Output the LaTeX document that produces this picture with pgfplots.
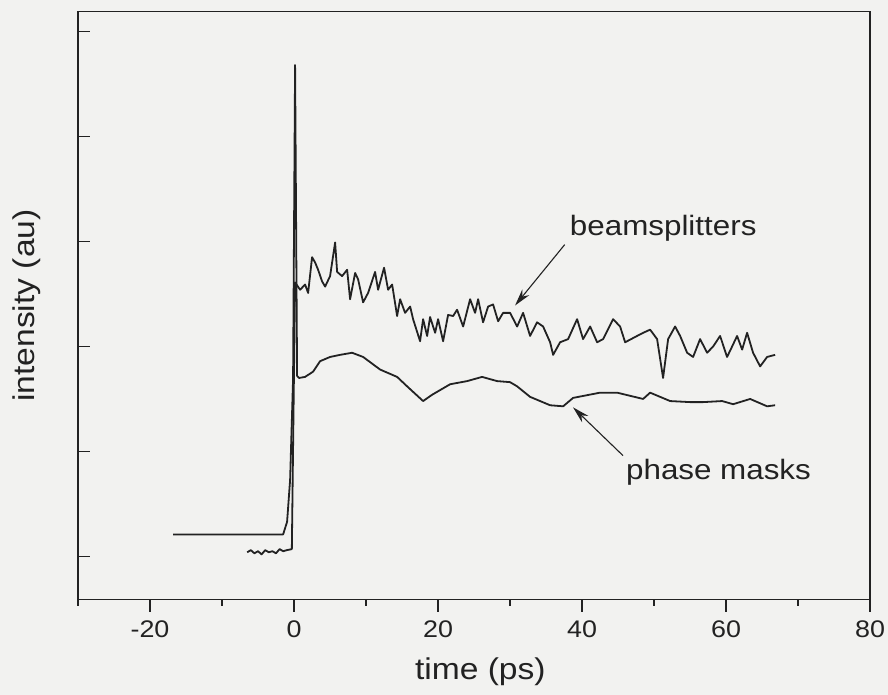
\documentclass[border=0pt]{standalone}
\usepackage{pgfplots}
\pgfplotsset{compat=1.18}
\usetikzlibrary{arrows.meta}
\usepackage{fontspec}
\setmainfont{Liberation Sans}[FakeStretch=1.12]
\definecolor{bg}{HTML}{F2F2F0}
\definecolor{ink}{HTML}{222222}

\begin{document}
\begin{tikzpicture}
\fill[bg] (0pt,0pt) rectangle (888pt,-695pt);
\begin{axis}[
  at={(78pt,-599.5pt)}, anchor=south west,
  scale only axis, width=792pt, height=588pt,
  xmin=-30, xmax=80, ymin=-0.41, ymax=5.19,
  xtick={-20,0,20,40,60,80},
  xticklabels={-20,0,20,40,60,80},
  minor xtick={-30,-10,10,30,50,70},
  ytick={0,1,2,3,4,5}, yticklabels={},
  xtick pos=bottom, ytick pos=left,
  xtick align=outside, ytick align=inside,
  major tick length=12pt, minor tick length=6pt,
  axis line style={draw=ink, line width=1.4pt},
  every tick/.style={draw=ink, line width=1.4pt},
  xticklabel style={font=\fontsize{24}{26}\selectfont, text=ink, yshift=-6pt},
  xlabel={time (ps)}, ylabel={intensity (au)},
  xlabel style={font=\fontsize{30}{34}\selectfont, text=ink, at={(axis description cs:0.508,0)}, anchor=center, yshift=-72.5pt},
  ylabel style={font=\fontsize{30}{34}\selectfont, text=ink, at={(axis description cs:-0.0644,0.5)}, anchor=center},
  clip=false,
]
% phase masks
\addplot[ink, line width=1.8pt, line join=round] coordinates {
(-16.8,0.21) (-10,0.21) (-5,0.21) (-1.51,0.21) (-0.96,0.33) (-0.54,0.73) (-0.13,1.69)
(0.15,4.68) (0.43,1.72) (0.71,1.70) (1.54,1.71) (2.65,1.76) (3.63,1.86) (5.01,1.90)
(6.40,1.92) (8.07,1.94) (9.60,1.90) (11.96,1.78) (14.32,1.71) (15.71,1.62) (17.93,1.48)
(19.18,1.54) (21.68,1.64) (24.04,1.67) (26.12,1.71) (28.21,1.67) (30.01,1.66) (30.99,1.62)
(32.79,1.52) (35.57,1.44) (37.38,1.43) (38.76,1.51) (42.51,1.56) (44.87,1.56) (48.49,1.50)
(49.46,1.56) (52.24,1.48) (55.01,1.47) (56.82,1.47) (59.46,1.48) (60.99,1.45) (63.35,1.50)
(65.71,1.43) (66.82,1.44)
};
% beamsplitters
\addplot[ink, line width=1.8pt, line join=round] coordinates {
(-6.5,0.04) (-6.0,0.06) (-5.5,0.03) (-5.0,0.05) (-4.5,0.02) (-4.0,0.06) (-3.5,0.04)
(-3.0,0.05) (-2.5,0.03) (-2.0,0.07) (-1.5,0.05) (-1.0,0.06) (-0.3,0.07)
(0.15,2.61) (0.85,2.54) (1.54,2.59) (1.96,2.51) (2.51,2.85) (2.93,2.80) (3.35,2.73)
(3.90,2.62) (4.32,2.57) (5.01,2.67) (5.71,2.99) (5.99,2.71) (6.68,2.67) (7.38,2.73)
(7.79,2.45) (8.49,2.70) (8.90,2.64) (9.60,2.42) (10.29,2.51) (11.26,2.71) (11.68,2.54)
(12.51,2.75) (13.07,2.54) (13.63,2.59) (14.32,2.29) (14.74,2.45) (15.43,2.32) (16.13,2.38)
(16.54,2.26) (17.51,2.05) (17.93,2.26) (18.49,2.10) (18.90,2.28) (19.60,2.13) (20.01,2.26)
(20.71,2.05) (21.40,2.30) (22.10,2.29) (22.65,2.35) (23.49,2.19) (24.46,2.45) (25.15,2.32)
(25.57,2.45) (26.26,2.23) (26.96,2.38) (27.65,2.40) (28.35,2.24) (29.04,2.32) (30.01,2.32)
(30.99,2.19) (31.82,2.32) (32.79,2.10) (33.76,2.23) (34.60,2.19) (35.57,2.04) (35.99,1.92)
(36.96,2.04) (38.07,2.07) (39.32,2.26) (40.15,2.07) (41.13,2.19) (42.10,2.04) (42.93,2.07)
(44.32,2.26) (45.29,2.19) (45.99,2.04) (47.65,2.10) (48.49,2.13) (49.46,2.16) (50.43,2.07)
(51.26,1.70) (51.96,2.07) (52.93,2.19) (53.63,2.10) (54.60,1.94) (55.43,1.90) (56.40,2.07)
(57.38,1.94) (58.21,2.00) (59.18,2.10) (60.15,1.90) (60.85,2.00) (61.54,2.10) (62.24,1.97)
(62.93,2.13) (63.76,1.94) (64.74,1.81) (65.71,1.90) (66.82,1.92)
};
\node[anchor=base west, font=\fontsize{28}{32}\selectfont, text=ink, inner sep=0pt] at (axis cs:38.3,3.06) {beamsplitters};
\draw[ink, line width=1.1pt, -{Stealth[length=17pt,width=9pt]}] (axis cs:37.6,2.97) -- (axis cs:30.7,2.39);
\node[anchor=base west, font=\fontsize{28}{32}\selectfont, text=ink, inner sep=0pt] at (axis cs:46.1,0.73) {phase masks};
\draw[ink, line width=1.1pt, -{Stealth[length=17pt,width=9pt]}] (axis cs:45.7,0.96) -- (axis cs:38.75,1.42);
\end{axis}
\pgfresetboundingbox
\useasboundingbox (0pt,0pt) rectangle (888pt,-695pt);
\end{tikzpicture}
\end{document}
